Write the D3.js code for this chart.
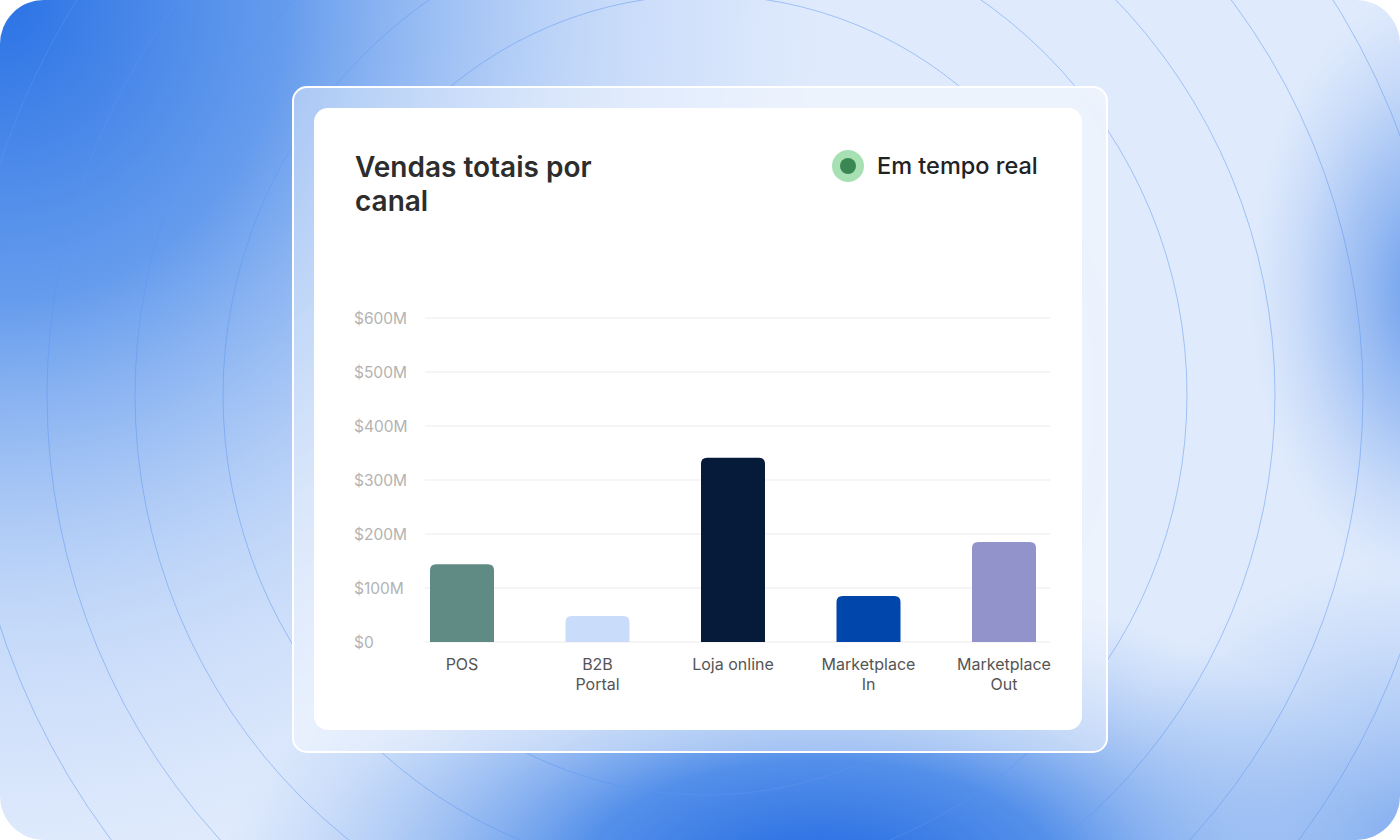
<!DOCTYPE html>
<html>
<head>
<meta charset="utf-8">
<script src="https://cdn.jsdelivr.net/npm/d3@7/dist/d3.min.js"></script>
<style>
  html, body { margin: 0; padding: 0; background: #ffffff; }
  svg { display: block; }
  text { font-family: Inter, "Noto Sans", sans-serif; }
</style>
</head>
<body>
<svg id="chart" width="1400" height="840"></svg>
<script>
// ---- data ----
const categories = ["POS", "B2B Portal", "Loja online", "Marketplace In", "Marketplace Out"];
const values = [144, 48, 341, 85, 185]; // $M
const tickLabels = [["POS"], ["B2B", "Portal"], ["Loja online"], ["Marketplace", "In"], ["Marketplace", "Out"]];
const colors = ["#5f8b84", "#c9ddfa", "#061a3a", "#0046ab", "#9393cc"];
const yTicks = [0, 100, 200, 300, 400, 500, 600];
const titleLines = ["Vendas totais por", "canal"];
const legendLabel = "Em tempo real";
const ringRadii = [400, 482, 570, 658, 742];

const svg = d3.select("#chart");
const W = 1400, H = 840;
const defs = svg.append("defs");

// gradients
function radial(id, stops) {
  const g = defs.append("radialGradient").attr("id", id)
    .attr("gradientUnits", "userSpaceOnUse");
  stops.forEach(s => g.append("stop").attr("offset", s[0]).attr("stop-color", s[1]).attr("stop-opacity", s[2]));
  return g;
}
radial("gTL", [[0, "#2a72e5", 1], [0.35, "#3d82e8", 0.75], [0.7, "#7aa9f0", 0.3], [1, "#9bbff5", 0]])
  .attr("cx", 0).attr("cy", 0).attr("r", 820)
  .attr("gradientTransform", "scale(1,1.05)");
radial("gBot", [[0, "#1f66e1", 1], [0.4, "#3179e5", 0.8], [0.75, "#6a9eec", 0.35], [1, "#8ab4f2", 0]])
  .attr("cx", 0).attr("cy", 0).attr("r", 1)
  .attr("gradientTransform", "translate(820,880) scale(600,300)");
radial("gR", [[0, "#5a92ea", 0.95], [0.5, "#7eaaef", 0.55], [1, "#a9c7f6", 0]])
  .attr("cx", 0).attr("cy", 0).attr("r", 1)
  .attr("gradientTransform", "translate(1430,290) scale(180,300)");
radial("gBR", [[0, "#5e95ea", 0.75], [1, "#8ab4f2", 0]])
  .attr("cx", 0).attr("cy", 0).attr("r", 1)
  .attr("gradientTransform", "translate(1420,840) scale(320,280)");

const outerClip = defs.append("clipPath").attr("id", "pageClip");
outerClip.append("rect").attr("x", 0).attr("y", 0).attr("width", W).attr("height", H).attr("rx", 44);

const cardClip = defs.append("clipPath").attr("id", "cardClip");
cardClip.append("rect").attr("x", 293).attr("y", 87).attr("width", 814).attr("height", 665).attr("rx", 14);

const blur = defs.append("filter").attr("id", "blur")
  .attr("x", -0.2).attr("y", -0.2).attr("width", 1.4).attr("height", 1.4);
blur.append("feGaussianBlur").attr("stdDeviation", 18);

// background group
const bg = defs.append("g").attr("id", "bg");
bg.append("rect").attr("width", W).attr("height", H).attr("fill", "#dfeafc");
bg.append("rect").attr("width", W).attr("height", H).attr("fill", "url(#gTL)");
bg.append("rect").attr("width", W).attr("height", H).attr("fill", "url(#gBot)");
bg.append("rect").attr("width", W).attr("height", H).attr("fill", "url(#gR)");
bg.append("rect").attr("width", W).attr("height", H).attr("fill", "url(#gBR)");
bg.selectAll("circle.ring").data(ringRadii).join("circle")
  .attr("class", "ring")
  .attr("cx", 705).attr("cy", 395).attr("r", d => d)
  .attr("fill", "none").attr("stroke", "#5b95f2").attr("stroke-opacity", 0.55).attr("stroke-width", 0.9);

const page = svg.append("g").attr("clip-path", "url(#pageClip)");
page.append("use").attr("href", "#bg");

// glass card
const glass = svg.append("g").attr("clip-path", "url(#cardClip)");
glass.append("use").attr("href", "#bg").attr("filter", "url(#blur)");
glass.append("rect").attr("x", 293).attr("y", 87).attr("width", 814).attr("height", 665)
  .attr("fill", "#ffffff").attr("fill-opacity", 0.42);
svg.append("rect").attr("x", 293).attr("y", 87).attr("width", 814).attr("height", 665).attr("rx", 14)
  .attr("fill", "none").attr("stroke", "#ffffff").attr("stroke-width", 2);

// inner white card
svg.append("rect").attr("x", 314).attr("y", 108).attr("width", 768).attr("height", 622).attr("rx", 14)
  .attr("fill", "#ffffff");

// title
const title = svg.append("text").attr("x", 355).attr("y", 177)
  .attr("font-size", 28).attr("font-weight", 600).attr("fill", "#2d2d2d");
titleLines.forEach((t, i) => title.append("tspan").attr("x", 355).attr("dy", i === 0 ? 0 : 34).text(t));

// legend
svg.append("circle").attr("cx", 848).attr("cy", 166).attr("r", 16).attr("fill", "#a6e0b3");
svg.append("circle").attr("cx", 848).attr("cy", 166).attr("r", 8).attr("fill", "#3b8754");
svg.append("text").attr("x", 877).attr("y", 174).attr("font-size", 23.5).attr("font-weight", 500)
  .attr("fill", "#222222").text(legendLabel);

// scales
const y = d3.scaleLinear().domain([0, 600]).range([642, 318]);
const x = d3.scaleBand().domain(categories).range([430, 1036]).paddingInner(0.5277).paddingOuter(0);

// gridlines + y labels
const fmt = v => v === 0 ? "$0" : `$${v}M`;
const grid = svg.append("g");
grid.selectAll("line").data(yTicks).join("line")
  .attr("x1", 425).attr("x2", 1050)
  .attr("y1", d => y(d)).attr("y2", d => y(d))
  .attr("stroke", "#ebebeb").attr("stroke-width", 1.2);
grid.selectAll("text").data(yTicks).join("text")
  .attr("x", 354).attr("y", d => y(d) + 5.5)
  .attr("font-size", 15.5).attr("fill", "#b3b3b3")
  .text(fmt);

// bars with rounded tops
const r = 6;
function barPath(x0, w, y0, y1) {
  const rr = Math.min(r, (y1 - y0) / 2);
  return `M${x0},${y1} V${y0 + rr} Q${x0},${y0} ${x0 + rr},${y0} H${x0 + w - rr} Q${x0 + w},${y0} ${x0 + w},${y0 + rr} V${y1} Z`;
}
svg.append("g").selectAll("path").data(categories).join("path")
  .attr("d", (c, i) => barPath(x(c), x.bandwidth(), y(values[i]), y(0)))
  .attr("fill", (c, i) => colors[i]);

// x labels
const xl = svg.append("g").selectAll("text").data(categories).join("text")
  .attr("text-anchor", "middle")
  .attr("font-size", 16).attr("fill", "#555555")
  .attr("y", 670);
xl.each(function(c, i) {
  const cx = x(c) + x.bandwidth() / 2;
  d3.select(this).attr("x", cx);
  tickLabels[i].forEach((t, j) => d3.select(this).append("tspan").attr("x", cx).attr("dy", j === 0 ? 0 : 20).text(t));
});
</script>
</body>
</html>
